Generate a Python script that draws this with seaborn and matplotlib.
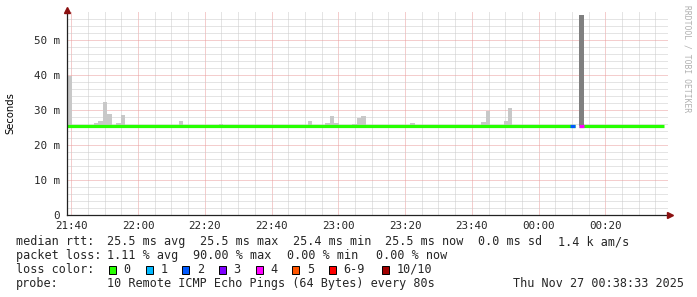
import numpy as np
import pandas as pd
import matplotlib
matplotlib.use("Agg")
import matplotlib.pyplot as plt
import matplotlib.dates as mdates
from matplotlib.patches import Rectangle
import seaborn as sns

# ---------------- data ----------------
first_step = "2025-11-26 21:38:50"
step_seconds = 80
# median RTT per 80 s step (ms); NaN = no data
median_ms = [
    25.4, 25.4, 25.4, 25.4, 25.5, 25.5, 25.4, 25.4, 25.5, 25.5,
    25.5, 25.4, 25.5, 25.4, 25.5, 25.4, 25.5, 25.5, 25.4, 25.4,
    25.5, 25.5, 25.4, 25.5, 25.4, 25.4, 25.5, 25.4, 25.5, 25.4,
    25.4, 25.5, 25.5, 25.5, 25.4, 25.4, 25.4, 25.4, 25.5, 25.5,
    25.5, 25.5, 25.5, 25.5, 25.5, 25.5, 25.4, 25.4, 25.4, 25.4,
    25.4, 25.5, 25.5, 25.5, 25.4, 25.4, 25.4, 25.5, 25.5, 25.5,
    25.5, 25.4, 25.5, 25.4, 25.4, 25.5, 25.5, 25.5, 25.5, 25.5,
    25.4, 25.4, 25.4, 25.4, 25.4, 25.4, 25.4, 25.5, 25.5, 25.5,
    25.4, 25.4, 25.5, 25.5, 25.4, 25.5, 25.5, 25.5, 25.5, 25.4,
    25.4, 25.4, 25.4, 25.5, 25.5, 25.5, 25.5, 25.5, 25.5, 25.5,
    25.5, 25.4, 25.4, 25.4, 25.5, 25.4, 25.4, 25.5, 25.5, 25.4,
    25.4, 25.4, 25.4, 25.4, np.nan, 25.5, 25.5, 25.5, 25.5, 25.5,
    25.4, 25.4, 25.5, 25.5, 25.5, 25.5, 25.5, 25.4, 25.5, 25.5,
    25.4, 25.5, 25.5, 25.5,
]
# smoke (max ping) per step where visible
smoke_steps = [0, 6, 7, 8, 9, 11, 12, 25, 34, 54, 58, 59, 60, 64, 65, 66,
               77, 93, 94, 98, 99, 115]
smoke_max_ms = [39.7, 26.3, 26.8, 32.1, 28.9, 26.3, 28.6, 26.8, 26.0, 26.9,
                26.2, 28.3, 26.2, 26.0, 27.7, 28.3, 26.2, 26.5, 29.7, 26.8,
                30.5, 57.0]
smoke_floor_ms = 25.3
dark_smoke_steps = [115]
# steps with packet loss (number of lost pings)
loss_steps = [113, 115]
loss_counts = [2, 4]

loss_labels = ["0", "1", "2", "3", "4", "5", "6-9", "10/10"]
loss_colors = ["#26ff00", "#00b8ff", "#0059ff", "#7e00ff", "#ff00ff",
               "#ff5500", "#ff0000", "#a10000"]

y_ticks = [0, 10, 20, 30, 40, 50]
y_tick_labels = ["0", "10 m", "20 m", "30 m", "40 m", "50 m"]
y_minor = [2, 4, 6, 8, 12, 14, 16, 18, 22, 24, 26, 28, 32, 34, 36, 38,
           42, 44, 46, 48, 52, 54, 56]
x_major_minutes = [0, 20, 40]
x_minor_minutes = [5, 10, 15, 25, 30, 35, 45, 50, 55]

row1 = [("median rtt:", 16), ("25.5 ms avg", 107.3), ("25.5 ms max", 200),
        ("25.4 ms min", 293.3), ("25.5 ms now", 385), ("0.0 ms sd", 477.7),
        ("1.4 k am/s", 558.3)]
row2 = [("packet loss:", 16), ("1.11 % avg", 107.3), ("90.00 % max", 193.3),
        ("0.00 % min", 286.7), ("0.00 % now", 376)]
row4 = [("probe:", 16), ("10 Remote ICMP Echo Pings (64 Bytes) every 80s", 107.3),
        ("Thu Nov 27 00:38:33 2025", 513.3)]

# ---------------- figure ----------------
W, H = 697, 297
sns.set_style("white")
plt.rcParams["font.family"] = ["DejaVu Sans Mono"]

fig = plt.figure(figsize=(W / 100, H / 100), dpi=100)
fig.patch.set_facecolor("white")
ax = fig.add_axes([67 / W, (H - 215) / H, 601 / W, 203 / H])
ax.set_facecolor("white")

def fx(x):
    return x / W

def fy(y):
    return 1 - y / H

n = len(median_ms)
t0 = pd.Timestamp(first_step)
step = pd.Timedelta(seconds=step_seconds)
starts = [t0 + i * step for i in range(n)]
step_days = step_seconds / 86400.0

# smoke bars
for s, m in zip(smoke_steps, smoke_max_ms):
    col = "#7f7f7f" if s in dark_smoke_steps else "#c8c8c8"
    ax.bar(mdates.date2num(starts[s]), m - smoke_floor_ms, bottom=smoke_floor_ms,
           width=step_days, align="edge", color=col, linewidth=0, zorder=2)

# median line (green), split at gaps
rows = []
seg = 0
for i, v in enumerate(median_ms):
    if np.isnan(v):
        if rows and rows[-1]["seg"] == seg:
            rows.append({"time": starts[i], "median": median_ms[i - 1], "seg": seg})
        seg += 1
        continue
    rows.append({"time": starts[i], "median": v, "seg": seg})
rows.append({"time": starts[-1] + step, "median": median_ms[-1], "seg": seg})
df = pd.DataFrame(rows)
sns.lineplot(data=df, x="time", y="median", units="seg", estimator=None,
             drawstyle="steps-post", color=loss_colors[0], linewidth=2.3,
             solid_capstyle="butt", ax=ax, zorder=3)

# loss coloured steps
for s, c in zip(loss_steps, loss_counts):
    ax.hlines(median_ms[s], mdates.date2num(starts[s]),
              mdates.date2num(starts[s] + step), colors=loss_colors[c],
              linewidth=2.3, zorder=4)

# axes
ax.set_xlim(pd.Timestamp("2025-11-26 21:38:45"), pd.Timestamp("2025-11-27 00:38:45"))
ax.set_ylim(0, 57.9)
ax.xaxis.set_major_locator(mdates.MinuteLocator(byminute=x_major_minutes))
ax.xaxis.set_minor_locator(mdates.MinuteLocator(byminute=x_minor_minutes))
ax.xaxis.set_major_formatter(mdates.DateFormatter("%H:%M"))
ax.set_yticks(y_ticks)
ax.set_yticklabels(y_tick_labels)
ax.set_yticks(y_minor, minor=True)
ax.set_xlabel("")
ax.set_ylabel("")

ax.grid(which="minor", color="#cbcbcb", linestyle=(0, (1, 1)), linewidth=0.72, zorder=0)
ax.grid(which="major", color="#ea9c9c", linestyle=(0, (1, 1)), linewidth=0.72, zorder=1)
ax.set_axisbelow(True)

ax.tick_params(axis="both", which="both", length=0)
ax.tick_params(axis="y", pad=5, labelsize=7.8)
ax.tick_params(axis="x", pad=4, labelsize=7.8)

for side in ["top", "right"]:
    ax.spines[side].set_visible(False)
for side in ["left", "bottom"]:
    ax.spines[side].set_color("#222222")
    ax.spines[side].set_linewidth(0.9)
    ax.spines[side].set_zorder(5)

ax.plot([1.004], [0], marker=">", color="#8b1010", markersize=4.5,
        transform=ax.transAxes, clip_on=False, zorder=6)
ax.plot([0], [1.01], marker="^", color="#8b1010", markersize=4.5,
        transform=ax.transAxes, clip_on=False, zorder=6)

# y label & watermark
fig.text(fx(10), fy(113), "Seconds", rotation=90, ha="center", va="center",
         fontsize=7.2, family="DejaVu Sans", color="#000000")
fig.text(fx(687), fy(59), "RRDTOOL / TOBI OETIKER", rotation=270, ha="center",
         va="center", fontsize=5.8, family="DejaVu Sans Mono", color="#b0b0b0")

# legend block
fs = 8.5
for txt, x in row1:
    fig.text(fx(x), fy(241.7), txt, ha="left", va="center", fontsize=fs)
for txt, x in row2:
    fig.text(fx(x), fy(255.7), txt, ha="left", va="center", fontsize=fs)
for txt, x in row4:
    fig.text(fx(x), fy(283.3), txt, ha="left", va="center", fontsize=fs)

fig.text(fx(16), fy(269.5), "loss color:", ha="left", va="center", fontsize=fs)
square_x = [109, 145.7, 182.3, 219, 255.7, 292.3, 329, 381.7]
for lab, col, sx in zip(loss_labels, loss_colors, square_x):
    fig.patches.append(Rectangle((fx(sx), fy(273.5)), 7 / W, 8 / H,
                                 transform=fig.transFigure, facecolor=col,
                                 edgecolor="#000000", linewidth=0.7))
    fig.text(fx(sx + 14.5), fy(269.5), lab, ha="left", va="center", fontsize=fs)

fig.savefig("out.png", dpi=100)
